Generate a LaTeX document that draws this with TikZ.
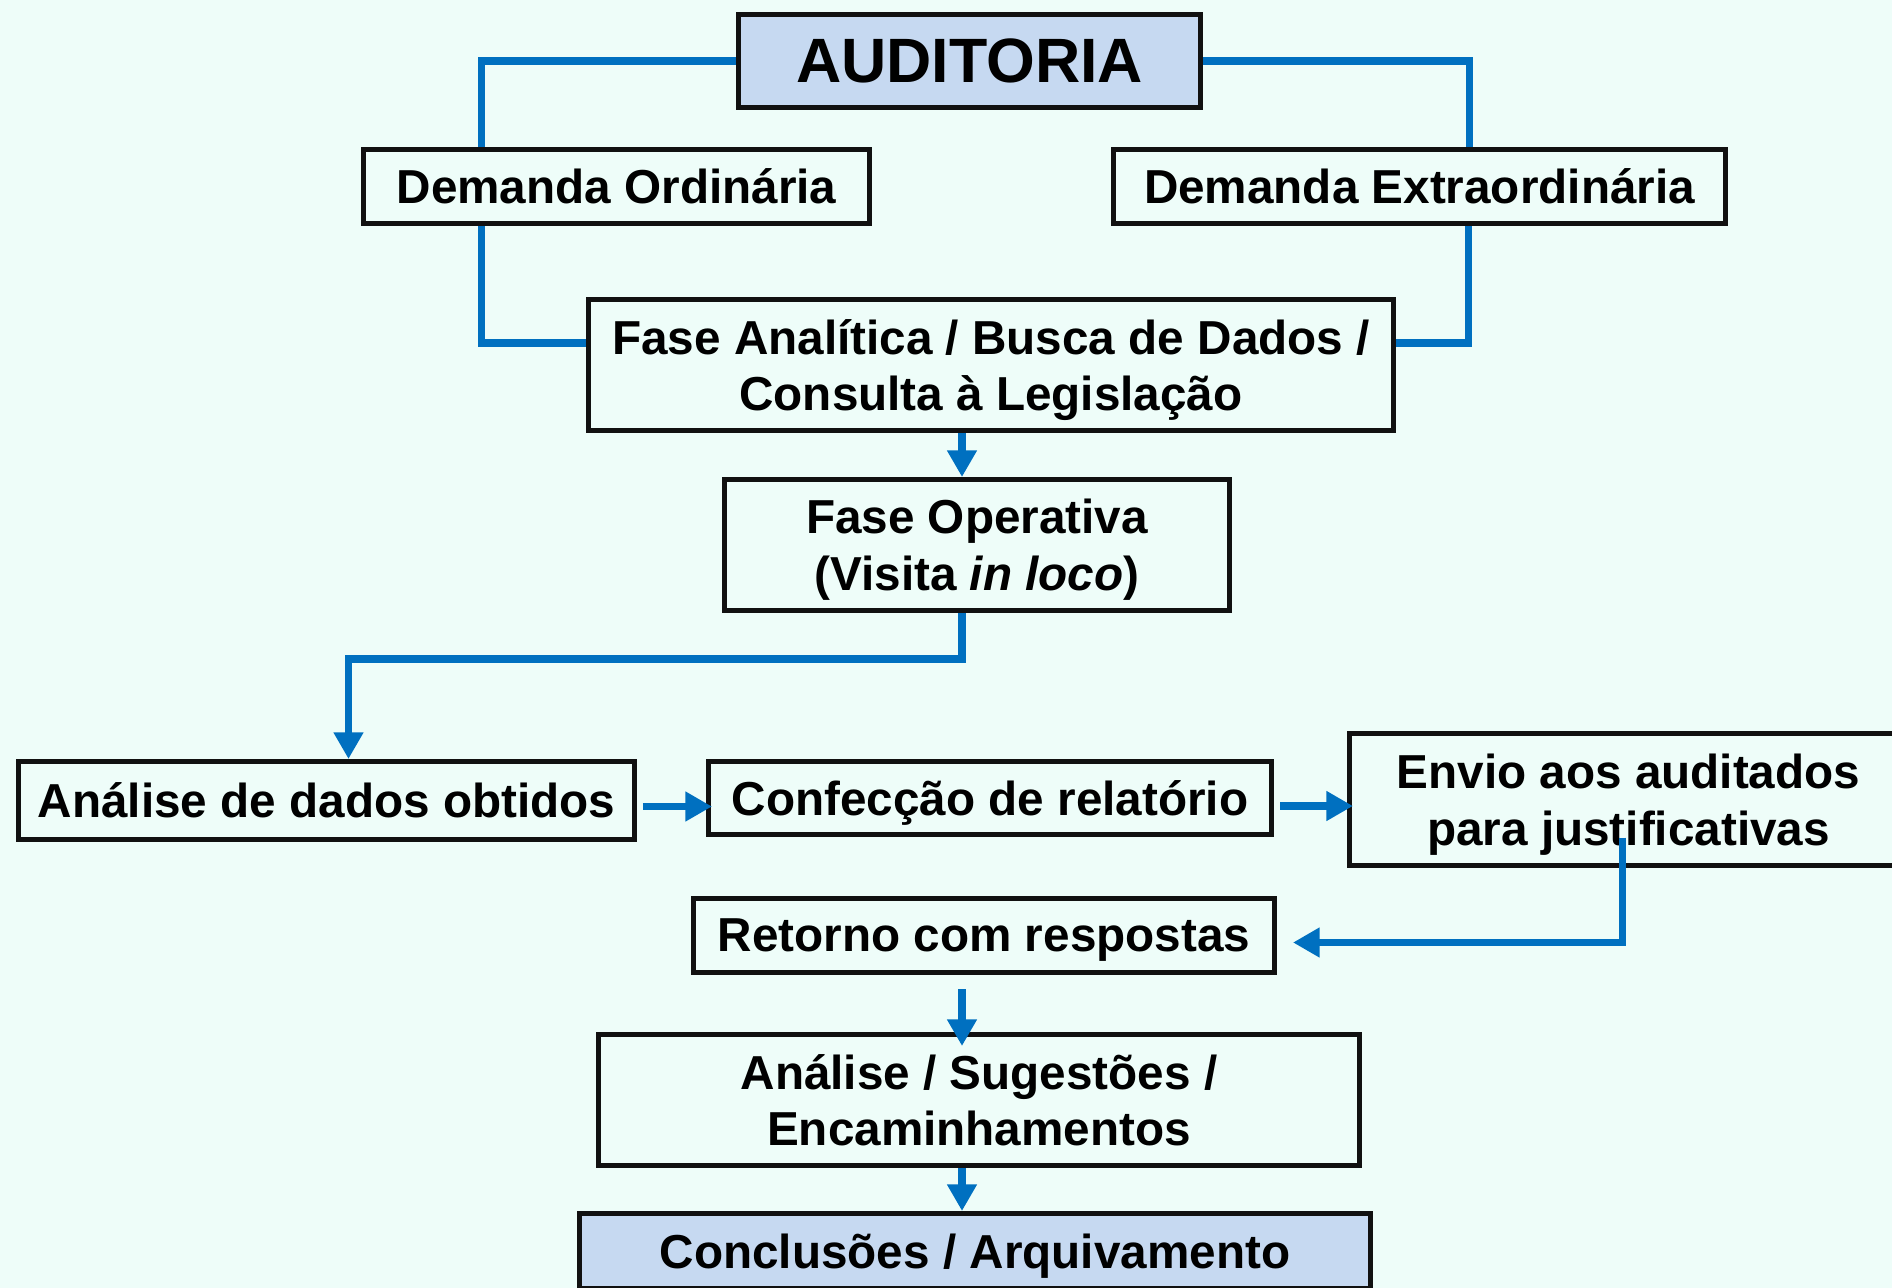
\documentclass[tikz,border=0pt]{standalone}
\usepackage{fontspec}
\setmainfont{Liberation Sans}
\usetikzlibrary{arrows.meta}
\definecolor{fundo}{RGB}{238,253,249}
\definecolor{azul}{RGB}{0,112,192}
\definecolor{azulclaro}{RGB}{198,217,241}
\definecolor{borda}{RGB}{17,17,17}

\begin{document}
\begin{tikzpicture}[
  x=0.3pt, y=-0.3pt,
  font=\fontsize{14.3pt}{17pt}\selectfont\bfseries,
  caixa/.style={draw=borda, line width=1.5pt, inner sep=0pt, text depth=0pt, align=center},
  destaque/.style={caixa, fill=azulclaro},
  linha/.style={draw=azul, line width=2.2pt},
  seta/.style={linha, -{Triangle[width=8.5pt,length=8pt]}}
]

% Fundo
\path[use as bounding box, fill=fundo] (0,0) rectangle (1892,1288);

% Topo
\node[destaque, minimum width=138.6pt, minimum height=27.9pt,
  font=\fontsize{18.8pt}{22pt}\selectfont\bfseries] (audit) at (969.5,61) {AUDITORIA};
\node[caixa, minimum width=151.8pt, minimum height=22.2pt] (dord) at (616.5,186.5) {Demanda Ordinária};
\node[caixa, minimum width=183.6pt, minimum height=22.2pt] (dext) at (1419.5,186.5) {Demanda Extraordinária};

% Fases
\node[caixa, minimum width=241.5pt, minimum height=39.3pt] (fana) at (991,365) {Fase Analítica / Busca de Dados /\\Consulta à Legislação};
\node[caixa, minimum width=151.5pt, minimum height=39.3pt] (fope) at (977,545) {Fase Operativa\\(Visita \textit{in loco})};

% Linha do meio
\node[caixa, minimum width=184.8pt, minimum height=23.4pt] (adados) at (326.5,800.5) {Análise de dados obtidos};
\node[caixa, minimum width=168.9pt, minimum height=21.9pt] (conf) at (990,798) {Confecção de relatório};
\node[caixa, minimum width=167.4pt, minimum height=39.6pt] (envio) at (1628.5,799.5) {Envio aos auditados\\para justificativas};

% Final
\node[caixa, minimum width=174.3pt, minimum height=22.2pt] (ret) at (984,935.5) {Retorno com respostas};
\node[caixa, minimum width=228.3pt, minimum height=39.3pt] (asug) at (979,1100) {Análise / Sugestões /\\Encaminhamentos};
\node[destaque, minimum width=237.3pt, minimum height=22.5pt] (concl) at (975,1251) {Conclusões / Arquivamento};

% Ligacoes
\draw[linha] (audit.west) -| ([shift={(-135,0)}]dord.north);
\draw[linha] (audit.east) -| ([shift={(50,0)}]dext.north);
\draw[linha] ([shift={(-135,0)}]dord.south) |- ([shift={(0,-22)}]fana.west);
\draw[linha] ([shift={(49,0)}]dext.south) |- ([shift={(0,-22)}]fana.east);
\draw[seta] ([shift={(-29,0)}]fana.south) -- ([shift={(-29,0)}]fana.south |- fope.north);
\draw[seta] ([shift={(-15,0)}]fope.south) -- ++(0,46) -| ([shift={(22,0)}]adados.north);
\draw[seta] ([shift={(6,6)}]adados.east) -- ([shift={(6,6)}]adados.east -| conf.west);
\draw[seta] ([shift={(6,8)}]conf.east) -- ([shift={(6,8)}]conf.east -| envio.west);
\draw[seta] ([shift={(-6,38)}]envio.center) |- ([shift={(16,7)}]ret.east);
\draw[seta] ([shift={(-22,14)}]ret.south) -- ([shift={(-22,14)}]ret.south |- asug.north);
\draw[seta] ([shift={(-17,0)}]asug.south) -- ([shift={(-17,0)}]asug.south |- concl.north);

\end{tikzpicture}
\end{document}
